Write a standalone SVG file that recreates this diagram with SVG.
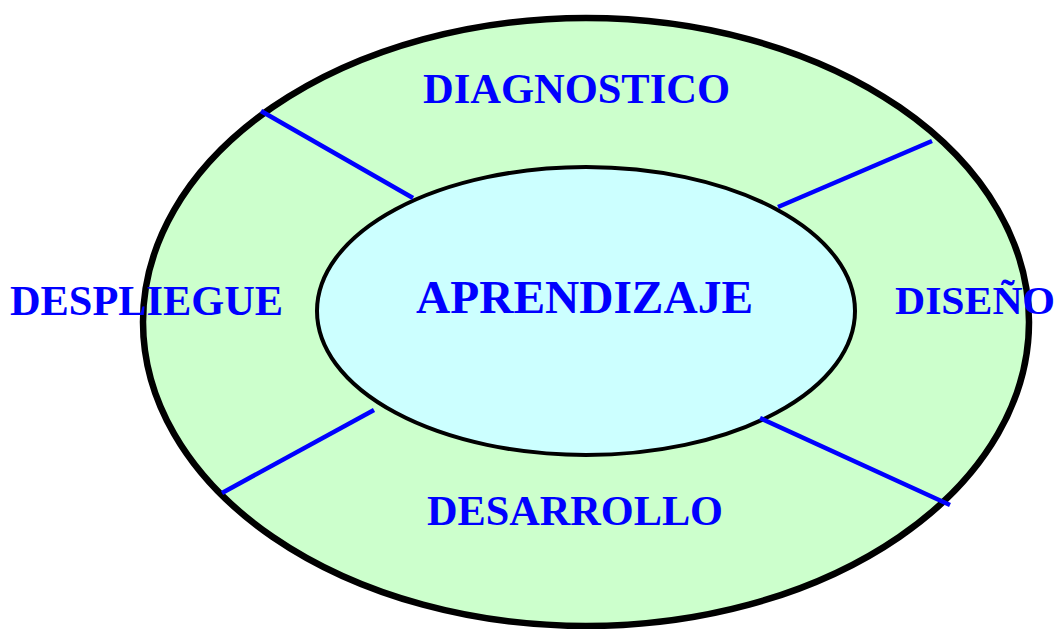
<svg xmlns="http://www.w3.org/2000/svg" width="1059" height="629" viewBox="0 0 1059 629">
<style>
.lbl{font-family:"Liberation Serif","Times New Roman",serif;font-weight:bold;fill:#0000FF;}
.sep{stroke:#0000FF;stroke-width:4.5;fill:none;}
</style>
<rect width="1059" height="629" fill="#FFFFFF"/>
<g id="outer">
<ellipse cx="586" cy="322" rx="443" ry="304" fill="#CCFFCC" stroke="#000000" stroke-width="6.5"/>
</g>
<g id="inner">
<ellipse cx="586" cy="311" rx="269" ry="144" fill="#CCFFFF" stroke="#000000" stroke-width="4"/>
<text class="lbl" x="416" y="313" font-size="46" textLength="337" lengthAdjust="spacingAndGlyphs">APRENDIZAJE</text>
</g>
<g id="connectors">
<line class="sep" x1="261" y1="111" x2="413" y2="198"/>
<line class="sep" x1="932" y1="141" x2="778" y2="207"/>
<line class="sep" x1="374" y1="410" x2="222" y2="493"/>
<line class="sep" x1="760" y1="418" x2="950" y2="505"/>
</g>
<g id="diagnostico"><text class="lbl" x="423" y="103" font-size="42" textLength="307" lengthAdjust="spacingAndGlyphs">DIAGNOSTICO</text></g>
<g id="diseno"><text class="lbl" x="895" y="314" font-size="40" textLength="160" lengthAdjust="spacingAndGlyphs">DISEÑO</text></g>
<g id="desarrollo"><text class="lbl" x="427" y="525" font-size="42" textLength="296" lengthAdjust="spacingAndGlyphs">DESARROLLO</text></g>
<g id="despliegue"><text class="lbl" x="10" y="315" font-size="42" textLength="273" lengthAdjust="spacingAndGlyphs">DESPLIEGUE</text></g>
</svg>
